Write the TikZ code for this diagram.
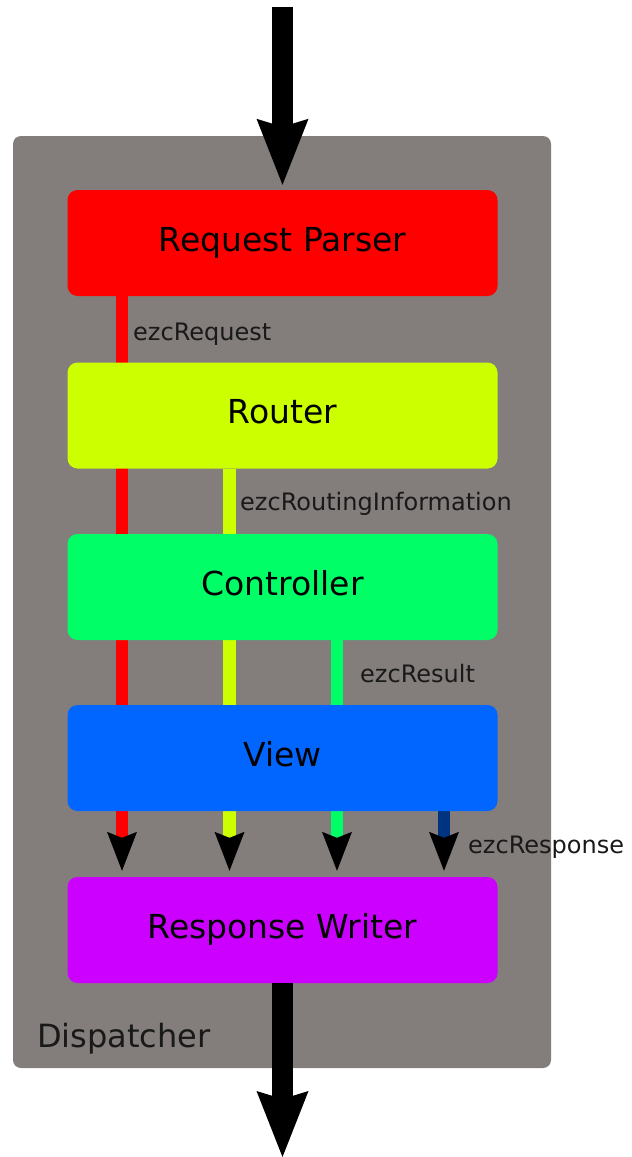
\documentclass[tikz,border=0pt]{standalone}
\usepackage{fontspec}
\setmainfont{DejaVu Sans}
\usetikzlibrary{arrows.meta}
\pgfdeclarelayer{back}
\pgfdeclarelayer{mid}
\pgfsetlayers{back,mid,main}
\definecolor{dispgray}{RGB}{131,125,124}
\definecolor{rpred}{HTML}{FF0000}
\definecolor{routeryel}{HTML}{CCFF00}
\definecolor{ctrlgreen}{HTML}{00FF66}
\definecolor{viewblue}{HTML}{0066FF}
\definecolor{rwpurple}{HTML}{CC00FF}
\definecolor{respblue}{HTML}{003380}
\begin{document}
\begin{tikzpicture}[x=1pt,y=-1pt,
  stage/.style={rounded corners=10pt, minimum width=430pt, minimum height=106pt,
    inner sep=0pt, font=\fontsize{33}{40}\selectfont, text height=24pt, text depth=8pt},
  flow/.style={line width=12.5pt},
  smallhead/.style={-{Stealth[length=39pt,width=30pt,inset=6pt,line width=0pt,color=black]}, shorten >=6pt},
  bighead/.style={line width=21pt, -{Stealth[length=66pt,width=52pt,inset=8pt,line width=0pt]}},
  lbl/.style={anchor=base west, inner sep=0pt, font=\fontsize{24}{29}\selectfont, text=black!90}
]
\useasboundingbox (0,0) rectangle (632,1157);

\node[stage, fill=rpred] (rp) at (282.5,243) {Request Parser};
\node[stage, fill=routeryel] (router) at (282.5,415.5) {Router};
\node[stage, fill=ctrlgreen] (ctrl) at (282.5,587) {Controller};
\node[stage, fill=viewblue] (view) at (282.5,758) {View};
\node[stage, fill=rwpurple] (rw) at (282.5,930) {Response Writer};

\begin{pgfonlayer}{back}
\node[fill=dispgray, rounded corners=8pt, minimum width=538pt, minimum height=932pt, inner sep=0pt] (disp) at (282,602) {};
\end{pgfonlayer}
\node[anchor=base west, inner sep=0pt, font=\fontsize{32}{38}\selectfont, text=black!90] (dlabel) at (37,1047) {Dispatcher};

\coordinate (xr) at (122,0);
\coordinate (xy) at (229.5,0);
\coordinate (xg) at (337,0);
\coordinate (xb) at (444,0);

\begin{pgfonlayer}{mid}
\draw[flow, rpred, smallhead] (rp.south -| xr) -- (rw.north -| xr);
\draw[flow, routeryel, smallhead] (router.south -| xy) -- (rw.north -| xy);
\draw[flow, ctrlgreen, smallhead] (ctrl.south -| xg) -- (rw.north -| xg);
\draw[flow, respblue, smallhead] (view.south -| xb) -- (rw.north -| xb);
\end{pgfonlayer}

\node[lbl] (lreq) at (133,340) {ezcRequest};
\node[lbl] (lrout) at (240,510.5) {ezcRoutingInformation};
\node[lbl] (lres) at (360,682) {ezcResult};
\node[lbl] (lresp) at (468,853) {ezcResponse};

\coordinate (in) at (282.5,7);
\coordinate (out) at (282.5,1157);
\draw[bighead, shorten >=5pt] (in) -- (rp.north);
\draw[bighead] (rw.south) -- (out);
\end{tikzpicture}
\end{document}
